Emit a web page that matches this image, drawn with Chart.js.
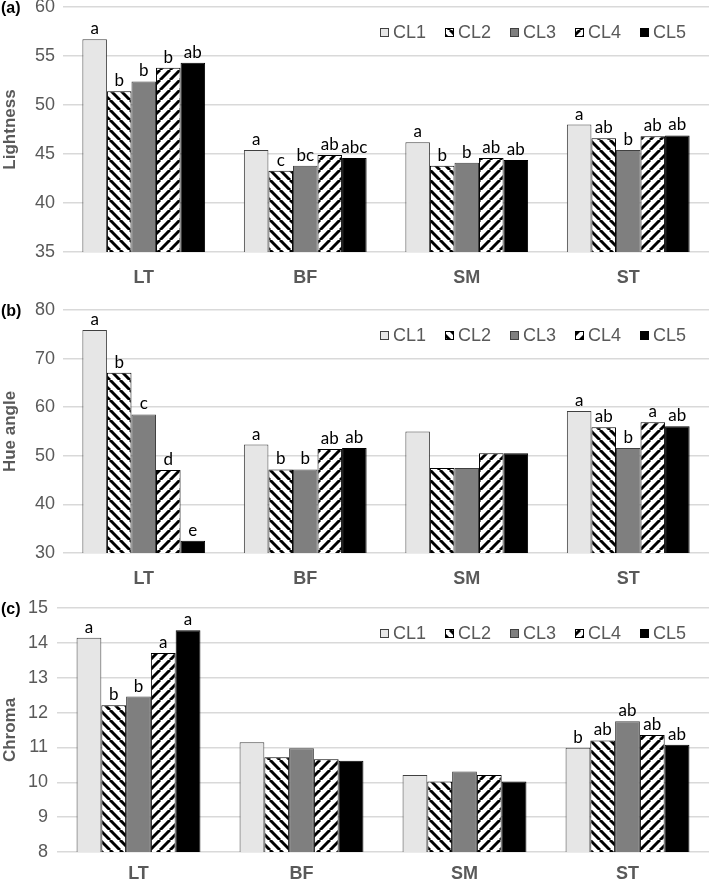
<!DOCTYPE html>
<html>
<head>
<meta charset="utf-8">
<script src="https://cdn.jsdelivr.net/npm/chart.js@4.4.1/dist/chart.umd.min.js"></script>
<style>
  html, body { margin: 0; padding: 0; background: #fff; }
  #wrap { position: relative; width: 709px; height: 882px; }
  #wrap canvas { position: absolute; left: 0; }
</style>
</head>
<body>
<div id="wrap">
  <canvas id="chartA" width="709" height="290" style="top:0px"></canvas>
  <canvas id="chartB" width="709" height="300" style="top:290px"></canvas>
  <canvas id="chartC" width="709" height="292" style="top:590px"></canvas>
</div>
<script>
// Data ----------------------------------------------------------------

const categories = ['LT', 'BF', 'SM', 'ST'];
const seriesNames = ['CL1', 'CL2', 'CL3', 'CL4', 'CL5'];

// rows = CL1..CL5, columns = LT, BF, SM, ST
const lightness = [
  [56.7, 45.4, 46.2, 48.0],
  [51.4, 43.3, 43.8, 46.6],
  [52.4, 43.8, 44.1, 45.4],
  [53.8, 44.9, 44.6, 46.8],
  [54.3, 44.6, 44.4, 46.9]
];
const lightnessLetters = [
  ['a', 'a', 'a', 'a'],
  ['b', 'c', 'b', 'ab'],
  ['b', 'bc', 'b', 'b'],
  ['b', 'ab', 'ab', 'ab'],
  ['ab', 'abc', 'ab', 'ab']
];
const lightnessTicks = [35, 40, 45, 50, 55, 60];

const hueAngle = [
  [75.9, 52.3, 55.0, 59.2],
  [67.1, 47.2, 47.5, 55.9],
  [58.5, 47.2, 47.5, 51.6],
  [47.1, 51.4, 50.5, 56.9],
  [32.5, 51.6, 50.5, 56.1]
];
const hueLetters = [
  ['a', 'a', '', 'a'],
  ['b', 'b', '', 'ab'],
  ['c', 'b', '', 'b'],
  ['d', 'ab', '', 'a'],
  ['e', 'ab', '', 'ab']
];
const hueTicks = [30, 40, 50, 60, 70, 80];

const chroma = [
  [14.15, 11.15, 10.21, 10.99],
  [12.21, 10.72, 10.02, 11.20],
  [12.46, 10.98, 10.31, 11.75],
  [13.71, 10.66, 10.21, 11.36],
  [14.36, 10.62, 10.02, 11.08]
];
const chromaLetters = [
  ['a', '', '', 'b'],
  ['b', '', '', 'ab'],
  ['b', '', '', 'ab'],
  ['a', '', '', 'ab'],
  ['a', '', '', 'ab']
];
const chromaTicks = [8, 9, 10, 11, 12, 13, 14, 15];


// Fills -----------------------------------------------------------------

// diagonal stripe tile, dir 1 = "\" and -1 = "/"
function stripes(dir) {
  const tile = document.createElement('canvas');
  tile.width = 10;
  tile.height = 10;
  const c = tile.getContext('2d');
  c.fillStyle = '#fff';
  c.fillRect(0, 0, 10, 10);
  c.strokeStyle = '#000';
  c.lineWidth = 3;
  for (let o = -10; o <= 10; o += 10) {
    c.beginPath();
    if (dir > 0) {
      c.moveTo(o, 0);
      c.lineTo(o + 10, 10);
    } else {
      c.moveTo(o + 10, 0);
      c.lineTo(o, 10);
    }
    c.stroke();
  }
  return c.createPattern(tile, 'repeat');
}

const fills = ['#e6e6e6', stripes(1), '#7f7f7f', stripes(-1), '#000000'];
const borders = ['#404040', '#000000', '#404040', '#000000', '#000000'];


// Plugins ---------------------------------------------------------------

// significance letters on top of the bars
const barLetters = {
  id: 'barLetters',
  afterDatasetsDraw(chart, args, opts) {
    const ctx = chart.ctx;
    ctx.save();
    ctx.font = '17px Lato';
    ctx.fillStyle = '#000';
    ctx.textAlign = 'center';
    ctx.textBaseline = 'alphabetic';
    chart.data.datasets.forEach((ds, i) => {
      chart.getDatasetMeta(i).data.forEach((bar, j) => {
        const t = opts.letters[i][j];
        if (t) ctx.fillText(t, bar.x, bar.y - 5);
      });
    });
    ctx.restore();
  }
};

// legend inside the plot + the panel tag
const innerLegend = {
  id: 'innerLegend',
  afterDraw(chart, args, opts) {
    const ctx = chart.ctx;
    const area = chart.chartArea;
    const y = area.top + 25;
    ctx.save();
    ctx.textBaseline = 'middle';
    chart.data.datasets.forEach((ds, i) => {
      const x = 380 + i * 65;
      ctx.fillStyle = ds.backgroundColor;
      ctx.fillRect(x, y - 4, 9, 9);
      ctx.strokeStyle = ds.borderColor;
      ctx.lineWidth = 1;
      ctx.strokeRect(x + 0.5, y - 3.5, 8, 8);
      ctx.fillStyle = '#595959';
      ctx.font = '18px "Liberation Sans"';
      ctx.fillText(ds.label, x + 13, y + 1);
    });
    ctx.fillStyle = '#000';
    ctx.font = 'bold 16px "Liberation Sans"';
    ctx.textAlign = 'left';
    ctx.fillText(opts.tag, 1, area.top + 2);
    ctx.restore();
  }
};


// Chart builder ---------------------------------------------------------

function makeChart(id, values, letters, ticks, title, tag, s) {
  const datasets = seriesNames.map((name, i) => ({
    label: name,
    data: values[i],
    backgroundColor: fills[i],
    borderColor: borders[i],
    borderWidth: 1,
    categoryPercentage: 0.76,
    barPercentage: 1
  }));

  return new Chart(document.getElementById(id), {
    type: 'bar',
    data: { labels: categories, datasets },
    plugins: [barLetters, innerLegend],
    options: {
      responsive: false,
      animation: false,
      devicePixelRatio: 1,
      layout: { padding: { top: s.top, left: 0, right: 0, bottom: 0 } },
      plugins: {
        legend: { display: false },
        tooltip: { enabled: false },
        barLetters: { letters },
        innerLegend: { tag }
      },
      scales: {
        x: {
          grid: { display: false },
          border: { display: false },
          ticks: {
            padding: s.xPad,
            color: '#595959',
            font: { family: 'Liberation Sans', size: 18, weight: 'bold' }
          },
          afterFit(scale) {
            scale.height = s.xHeight;
            scale.paddingLeft = 0;
            scale.paddingRight = 0;
          }
        },
        y: {
          min: ticks[0],
          max: ticks[ticks.length - 1],
          grid: { color: '#d9d9d9', lineWidth: 1.5, drawTicks: false },
          border: { display: false },
          ticks: {
            stepSize: ticks[1] - ticks[0],
            padding: s.yPad,
            color: '#595959',
            font: { family: 'Liberation Sans', size: 18 }
          },
          title: {
            display: true,
            text: title,
            color: '#595959',
            padding: { top: 0, bottom: 0 },
            font: { family: 'Liberation Sans', size: 17, weight: 'bold' }
          },
          afterFit(scale) {
            scale.width = s.yWidth;
            scale.paddingTop = 0;
            scale.paddingBottom = 0;
          }
        }
      }
    }
  });
}

// 3 panels --------------------------------------------------------------

const chartA = makeChart('chartA', lightness, lightnessLetters, lightnessTicks, 'Lightness', '(a)',
  { top: 7, xHeight: 38, xPad: 7, yWidth: 63, yPad: 8 });

const chartB = makeChart('chartB', hueAngle, hueLetters, hueTicks, 'Hue angle', '(b)',
  { top: 20, xHeight: 37, xPad: 7, yWidth: 63, yPad: 8 });

const chartC = makeChart('chartC', chroma, chromaLetters, chromaTicks, 'Chroma', '(c)',
  { top: 18, xHeight: 30, xPad: 3, yWidth: 57, yPad: 9 });
</script>
</body>
</html>
